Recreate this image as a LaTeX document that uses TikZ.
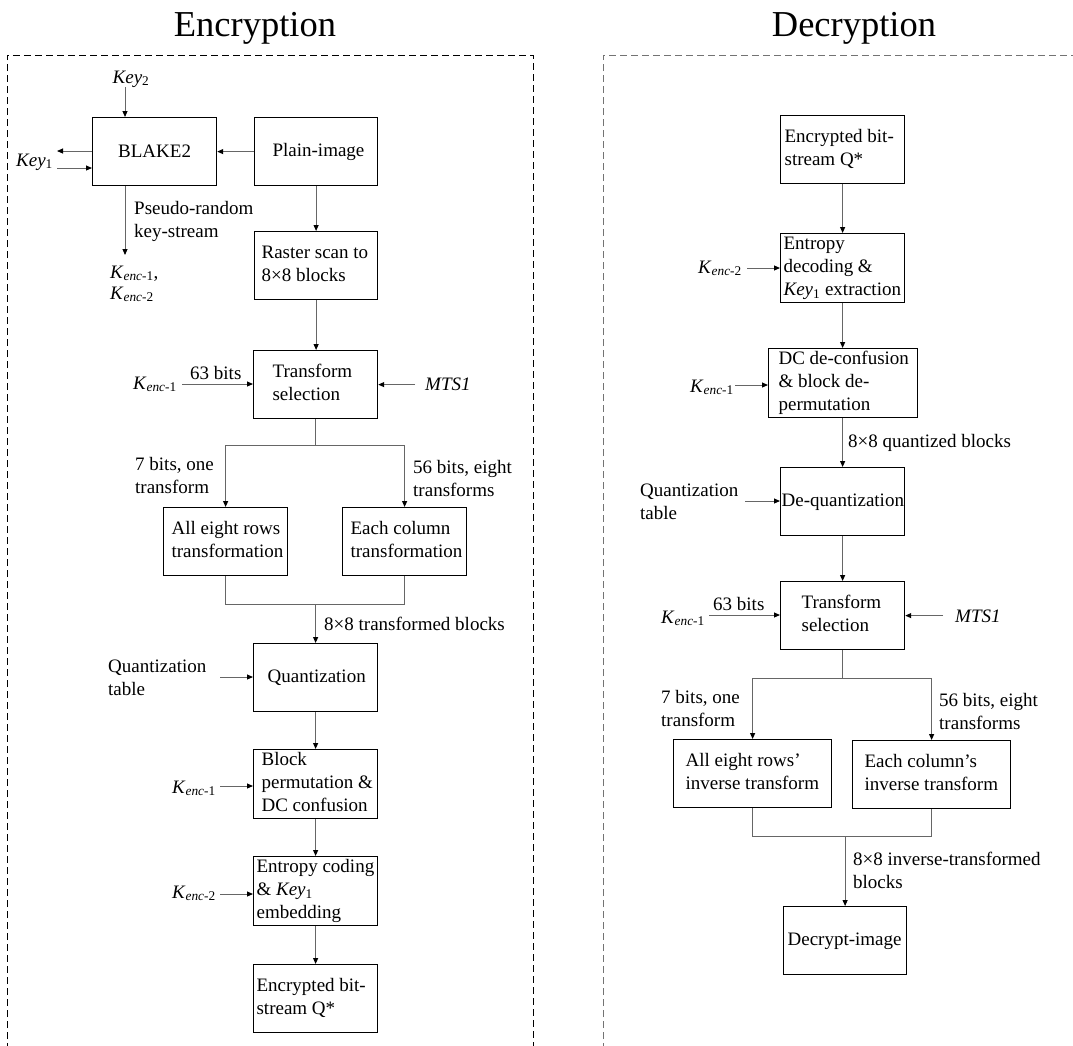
\documentclass[tikz,border=0pt]{standalone}
\usepackage{fontspec}
\setmainfont{Liberation Serif}
\usetikzlibrary{arrows.meta}

% text of a block: width, left padding, lines
\newcommand{\boxtxt}[3]{\makebox[#1pt][l]{\hspace*{#2pt}\begin{tabular}{@{}l@{}}#3\end{tabular}}}
% free-standing multi-line label, baseline on its first line
\newcommand{\outtxt}[1]{\begin{tabular}[t]{@{}l@{}}#1\end{tabular}}
\newcommand{\Kenc}[1]{\textit{K}\textsubscript{\textit{enc}-#1}}
\newcommand{\Key}[1]{\textit{Key}\textsubscript{#1}}

\begin{document}
\begin{tikzpicture}[x=1pt,y=-1pt,
  font=\fontsize{19}{23}\selectfont,
  blk/.style={draw=black, line width=1.2pt, anchor=north west, inner sep=0pt, minimum height=68pt},
  txt/.style={inner sep=0pt, anchor=base west},
  title/.style={inner sep=0pt, anchor=base, font=\fontsize{36.5}{44}\selectfont},
  conn/.style={draw=black!60, line width=1pt},
  arr/.style={conn, -{Triangle[length=6pt,width=5pt,color=black]}},
  frame/.style={dash pattern=on 7pt off 4pt, line width=1pt}]

\useasboundingbox (0,0) rectangle (1073,1045);
\fill[white] (0,0) rectangle (1073,1045);

% titles and the two dashed frames
\node[title] (tenc) at (255,36) {Encryption};
\node[title] (tdec) at (854,36) {Decryption};
\draw[frame, black] (7,1050) -- (7,55) -- (533,55) -- (533,1050);
\draw[frame, black!55] (603,1050) -- (603,55) -- (1080,55);

% ---------------- encryption ----------------
\node[blk] (blake)  at (92,117)  {\makebox[124pt]{BLAKE2}};
\node[blk] (plain)  at (254,117) {\boxtxt{123}{18}{Plain-image}};
\node[blk] (raster) at (254,231) {\boxtxt{123}{7}{Raster scan to\\ 8×8 blocks}};
\node[blk] (tsel)   at (253,350) {\boxtxt{124}{19}{Transform\\ selection}};
\node[blk] (rows)   at (163,507) {\boxtxt{124}{8}{All eight rows\\ transformation}};
\node[blk] (cols)   at (342,507) {\boxtxt{124}{8}{Each column\\ transformation}};
\node[blk] (quant)  at (253,643) {\boxtxt{124}{14}{Quantization}};
\node[blk] (bperm)  at (253,749) {\boxtxt{124}{8}{Block\\ permutation \&\\ DC confusion}};
\node[blk] (ecod)   at (253,856) {\boxtxt{124}{3}{Entropy coding\\ \& \Key{1}\\ embedding}};
\node[blk] (encq)   at (253,964) {\boxtxt{124}{3}{Encrypted bit-\\ stream Q*}};

\node[inner sep=0pt, anchor=base] (key2) at (131,83) {\Key{2}};
\node[txt] (key1) at (16,166) {\Key{1}};
\node[txt] (prk) at (134,214) {\outtxt{Pseudo-random\\ key-stream}};
\node[txt] (kout) at (110,278) {\outtxt{\Kenc{1},\\[-2pt] \Kenc{2}}};
\node[txt] (ka) at (133,389) {\Kenc{1}};
\node[txt] (bitsa) at (190,379) {63 bits};
\node[txt] (mtsa) at (425,390) {\textit{MTS1}};
\node[txt] (sevena) at (135,470) {\outtxt{7 bits, one\\ transform}};
\node[txt] (fiftya) at (413,473) {\outtxt{56 bits, eight\\ transforms}};
\node[txt] (tba) at (324,630) {8×8 transformed blocks};
\node[txt] (qta) at (108,672) {\outtxt{Quantization\\ table}};
\node[txt] (kb) at (172,793) {\Kenc{1}};
\node[txt] (kc) at (172,898) {\Kenc{2}};

\coordinate (k1out) at (57,151);
\coordinate (k1in) at (57,168);
\coordinate (ks) at (125,255);
\coordinate (sp1) at (315,445);
\coordinate (mg1) at (315,604);
\coordinate (kas) at (182,384);
\coordinate (qas) at (220,677);
\coordinate (kbs) at (220,786);
\coordinate (kcs) at (220,894);

\draw[arr] ([xshift=-6pt]key2.south) -- ([xshift=-6pt]key2.south |- blake.north);
\draw[arr] (blake.west |- k1out) -- (k1out);
\draw[arr] (k1in) -- (k1in -| blake.west);
\draw[arr] (plain.west) -- (blake.east);
\draw[arr] (blake.south -| ks) -- (ks);
\draw[arr] (plain.south) -- (raster.north);
\draw[arr] (raster.south) -- (raster.south |- tsel.north);
\draw[arr] (kas) -- (kas -| tsel.west);
\draw[arr] ([xshift=-10pt]mtsa.west |- tsel.east) -- (tsel.east);
\draw[conn] (tsel.south) -- (tsel.south |- sp1);
\draw[conn] (rows.north |- sp1) -- (cols.north |- sp1);
\draw[arr] (rows.north |- sp1) -- (rows.north);
\draw[arr] (cols.north |- sp1) -- (cols.north);
\draw[conn] (rows.south) -- (rows.south |- mg1) -- (cols.south |- mg1) -- (cols.south);
\draw[arr] (quant.north |- mg1) -- (quant.north);
\draw[arr] (qas) -- (qas -| quant.west);
\draw[arr] (quant.south) -- (bperm.north);
\draw[arr] (kbs) -- (kbs -| bperm.west);
\draw[arr] (bperm.south) -- (ecod.north);
\draw[arr] (kcs) -- (kcs -| ecod.west);
\draw[arr] (ecod.south) -- (encq.north);

% ---------------- decryption ----------------
\node[blk] (dq)    at (780,115) {\boxtxt{124}{4}{Encrypted bit-\\ stream Q*}};
\node[blk] (edec)  at (780,233) {\boxtxt{124}{3}{Entropy\\ decoding \&\\ \Key{1} extraction}};
\node[blk] (dcdc)  at (768,348) {\boxtxt{149}{10}{DC de-confusion\\ \& block de-\\ permutation}};
\node[blk] (deq)   at (780,467) {\boxtxt{124}{1}{De-quantization}};
\node[blk] (tsel2) at (780,581) {\boxtxt{124}{21}{Transform\\ selection}};
\node[blk] (irows) at (673,739) {\boxtxt{158}{12}{All eight rows’\\ inverse transform}};
\node[blk] (icols) at (852,740) {\boxtxt{158}{12}{Each column’s\\ inverse transform}};
\node[blk] (dimg)  at (783,906) {\boxtxt{123}{4}{Decrypt-image}};

\node[txt] (kd) at (698,273) {\Kenc{2}};
\node[txt] (ke) at (690,392) {\Kenc{1}};
\node[txt] (qbl) at (848,447) {8×8 quantized blocks};
\node[txt] (qtb) at (640,496) {\outtxt{Quantization\\ table}};
\node[txt] (bitsb) at (713,610) {63 bits};
\node[txt] (kf) at (661,623) {\Kenc{1}};
\node[txt] (mtsb) at (955,622) {\textit{MTS1}};
\node[txt] (sevenb) at (661,703) {\outtxt{7 bits, one\\ transform}};
\node[txt] (fiftyb) at (939,706) {\outtxt{56 bits, eight\\ transforms}};
\node[txt] (itb) at (853,865) {\outtxt{8×8 inverse-transformed\\ blocks}};

\coordinate (kds) at (747,268);
\coordinate (kes) at (735,385);
\coordinate (qbs) at (745,501);
\coordinate (kfs) at (709,615);
\coordinate (sp2) at (842,678);
\coordinate (mg2) at (845,836);

\draw[arr] (dq.south) -- (edec.north);
\draw[arr] (kds) -- (kds -| edec.west);
\draw[arr] (edec.south) -- (edec.south |- dcdc.north);
\draw[arr] (kes) -- (kes -| dcdc.west);
\draw[arr] (deq.north |- dcdc.south) -- (deq.north);
\draw[arr] (qbs) -- (qbs -| deq.west);
\draw[arr] (deq.south) -- (tsel2.north);
\draw[arr] (kfs) -- (kfs -| tsel2.west);
\draw[arr] ([xshift=-12pt]mtsb.west |- tsel2.east) -- (tsel2.east);
\draw[conn] (tsel2.south) -- (tsel2.south |- sp2);
\draw[conn] (irows.north |- sp2) -- (icols.north |- sp2);
\draw[arr] (irows.north |- sp2) -- (irows.north);
\draw[arr] (icols.north |- sp2) -- (icols.north);
\draw[conn] (irows.south) -- (irows.south |- mg2) -- (icols.south |- mg2) -- (icols.south);
\draw[arr] (dimg.north |- mg2) -- (dimg.north);
\end{tikzpicture}
\end{document}
